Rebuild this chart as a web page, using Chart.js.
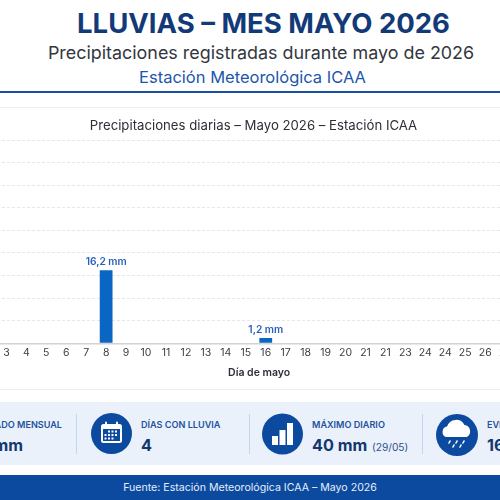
<!DOCTYPE html>
<html lang="es">
<head>
<meta charset="utf-8">
<title>Lluvias mayo 2026</title>
<script src="https://cdn.jsdelivr.net/npm/chart.js@4/dist/chart.umd.min.js"></script>
<style>
  html, body { margin: 0; padding: 0; width: 500px; height: 500px; overflow: hidden; background: #fff; font-family: Inter, sans-serif; }
  .abs { position: absolute; white-space: nowrap; }
  .center { transform: translateX(-50%); }
  #rule { position: absolute; left: 0; top: 91px; width: 500px; height: 2px; background: #1b4f9f; }
  .hair { position: absolute; left: 0; width: 500px; height: 1px; background: #eceef1; }
  #band { position: absolute; left: 0; top: 402px; width: 500px; height: 63px; background: #eaf1fb; }
  #foot { position: absolute; left: 0; top: 475px; width: 500px; height: 25px; background: #0b4a9e; }
  .sep { position: absolute; top: 414px; width: 1px; height: 40px; background: #c3d5ec; }
  .lbl { font-size: 9.1px; font-weight: 600; color: #23519c; line-height: 12px; top: 419px; }
  .val { font-size: 16.2px; font-weight: 700; color: #13386f; line-height: 22px; top: 434px; }
  svg.ico { position: absolute; }
  #chart { position: absolute; left: -68px; top: 108px; }
</style>
</head>
<body>
<div class="abs center" style="left:263.5px;top:5px;font-size:27.5px;font-weight:700;color:#123a78;line-height:36px">LLUVIAS – MES MAYO 2026</div>
<div class="abs center" style="left:261px;top:41px;font-size:17.9px;font-weight:400;color:#33373d;line-height:24px">Precipitaciones registradas durante mayo de 2026</div>
<div class="abs center" style="left:252.5px;top:67px;font-size:16.5px;font-weight:400;color:#1d56ab;line-height:21px">Estación Meteorológica ICAA</div>
<div id="rule"></div>
<div class="hair" style="top:107px"></div>
<div class="hair" style="top:389px"></div>

<canvas id="chart" width="643" height="281"></canvas>

<div id="band"></div>
<div class="sep" style="left:76px"></div>
<div class="sep" style="left:249px"></div>
<div class="sep" style="left:422px"></div>

<div class="abs lbl" style="right:438px">ACUMULADO MENSUAL</div>
<div class="abs val" style="right:477px">mm</div>

<svg class="ico" style="left:91px;top:413px" width="41" height="41" viewBox="0 0 41 41">
  <circle cx="20.5" cy="20.5" r="20.5" fill="#0b4a9e"/>
  <rect x="10" y="11" width="21" height="19" rx="2.5" fill="#fff"/>
  <rect x="12" y="16" width="17" height="12" fill="#0b4a9e"/>
  <rect x="14" y="8.5" width="2" height="5" rx="1" fill="#fff"/>
  <rect x="25" y="8.5" width="2" height="5" rx="1" fill="#fff"/>
  <g fill="#fff">
    <rect x="17" y="17.5" width="2" height="2"/><rect x="20.5" y="17.5" width="2" height="2"/><rect x="24" y="17.5" width="2" height="2"/>
    <rect x="13.5" y="21" width="2" height="2"/><rect x="17" y="21" width="2" height="2"/><rect x="20.5" y="21" width="2" height="2"/><rect x="24" y="21" width="2" height="2"/>
    <rect x="13.5" y="24.5" width="2" height="2"/><rect x="17" y="24.5" width="2" height="2"/><rect x="20.5" y="24.5" width="2" height="2"/>
  </g>
</svg>
<div class="abs lbl" style="left:141px">DÍAS CON LLUVIA</div>
<div class="abs val" style="left:141px">4</div>

<svg class="ico" style="left:262px;top:413px" width="41" height="42" viewBox="0 0 41 42">
  <circle cx="20.5" cy="21" r="20.5" fill="#0b4a9e"/>
  <rect x="10" y="23" width="6" height="9" fill="#fff"/>
  <rect x="17.5" y="17" width="6" height="15" fill="#fff"/>
  <rect x="25" y="10" width="6" height="22" fill="#fff"/>
</svg>
<div class="abs lbl" style="left:312px">MÁXIMO DIARIO</div>
<div class="abs val" style="left:312px">40 mm</div>
<div class="abs" style="left:372px;top:439px;font-size:10.2px;line-height:16px;color:#2f4f86">(29/05)</div>

<svg class="ico" style="left:436px;top:414px" width="42" height="42" viewBox="0 0 42 42">
  <circle cx="21" cy="21" r="21" fill="#0b4a9e"/>
  <path d="M10 23 a5.5 5.5 0 0 1 1-10.5 a9.5 9.5 0 0 1 17.5-1.5 a6.5 6.5 0 0 1 2.5 12 z" fill="#fff"/>
  <g stroke="#fff" stroke-width="1.6" stroke-linecap="round">
    <line x1="14" y1="27" x2="13" y2="29"/><line x1="21" y1="27" x2="20" y2="29"/><line x1="28" y1="27" x2="27" y2="29"/>
    <line x1="18" y1="31" x2="17" y2="33"/><line x1="25" y1="31" x2="24" y2="33"/>
  </g>
</svg>
<div class="abs lbl" style="left:487px">EVENTOS</div>
<div class="abs val" style="left:487px">16</div>

<div id="foot"></div>
<div class="abs center" style="left:250px;top:480px;font-size:10.6px;line-height:15px;color:#e6eefb">Fuente: Estación Meteorológica ICAA – Mayo 2026</div>

<script>
// labels as printed on the axis (21 and 24 appear twice)
const dias = ['1','2','3','4','5','6','7','8','9','10','11','12','13','14','15','16','17','18','19','20','21','21','23','24','24','25','26','27','28','29','30'];
const lluvia = [0,0,0,0,0,0,0,16.2,0,0,0,0,0,0,0,1.2,0,0,0,0,0,0,0,0,0,0,0,0,0,40,0];
const yMax = 45;
const yStep = 5;

// "16,2 mm" above each bar with rain
const barLabels = {
    id: 'barLabels',
    afterDatasetsDraw(chart) {
        const ctx = chart.ctx;
        const bars = chart.getDatasetMeta(0).data;
        ctx.save();
        ctx.font = '600 10.2px Inter';
        ctx.fillStyle = '#2a62b8';
        ctx.textAlign = 'center';
        ctx.textBaseline = 'bottom';
        bars.forEach((bar, i) => {
            if (lluvia[i] > 0) {
                ctx.fillText(String(lluvia[i]).replace('.', ',') + ' mm', bar.x, bar.y - 3);
            }
        });
        ctx.restore();
    }
};

new Chart(document.getElementById('chart').getContext('2d'), {
    type: 'bar',
    data: {
        labels: dias,
        datasets: [{
            label: 'Precipitación (mm)',
            data: lluvia,
            backgroundColor: '#0a66c2',
            categoryPercentage: 1,
            barPercentage: 0.64,
        }],
    },
    plugins: [barLabels],
    options: {
        responsive: false,
        animation: false,
        layout: { padding: 0 },
        plugins: {
            legend: { display: false },
            tooltip: { enabled: false },
            title: {
                display: true,
                text: 'Precipitaciones diarias – Mayo 2026 – Estación ICAA',
                color: '#2b2f36',
                font: { family: 'Inter', size: 13.2, weight: '400' },
                padding: { top: 10, bottom: 6.2 },
            },
        },
        scales: {
            x: {
                grid: { display: false, drawTicks: false },
                border: { color: '#cfd2d6', width: 1.5 },
                ticks: { color: '#3a3d42', font: { family: 'Inter', size: 10.5 }, autoSkip: false, maxRotation: 0, padding: 3 },
                // trailing spaces pull the centred title left, as in the original
                title: { display: true, text: 'Día de mayo\u00a0\u00a0\u00a0\u00a0\u00a0', color: '#2b2f36', font: { family: 'Inter', size: 10.5, weight: '600' }, padding: { top: 4.8, bottom: 9.7 } },
            },
            y: {
                min: 0,
                max: yMax,
                afterFit(scale) { scale.width = 24.5; },
                ticks: { stepSize: yStep, color: '#3a3d42', font: { family: 'Inter', size: 10 } },
                border: { display: false, dash: [3, 2] },
                grid: { color: '#e6e7ea', lineWidth: 1, tickLength: 0 },
            },
        },
    },
});
</script>
</body>
</html>
